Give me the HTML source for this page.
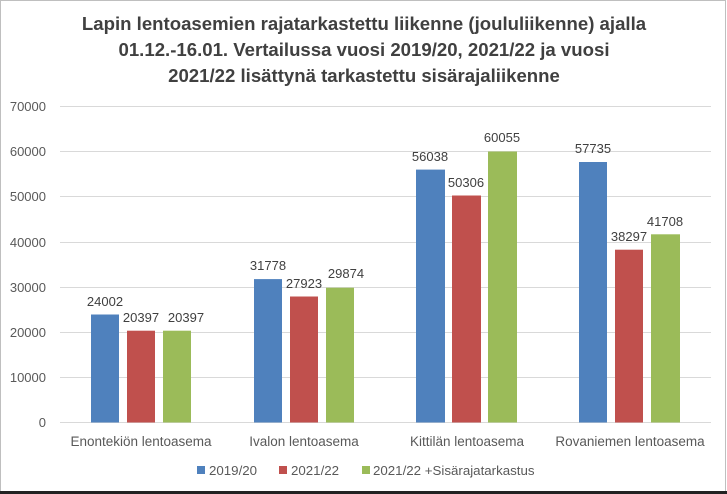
<!DOCTYPE html>
<html><head><meta charset="utf-8"><style>
body{margin:0;background:#fff;}
svg{display:block;font-family:"Liberation Sans",sans-serif;}
</style></head><body>
<svg width="727" height="494" viewBox="0 0 727 494">
<rect x="0.5" y="0.5" width="725" height="492" fill="#fff" stroke="#bfbfbf"/>
<rect x="0" y="491" width="727" height="3" fill="#222"/>
<g font-weight="bold" font-size="18.6" fill="#404040" text-anchor="middle">
<text x="364" y="30">Lapin lentoasemien rajatarkastettu liikenne (joululiikenne) ajalla</text>
<text x="364" y="56">01.12.-16.01. Vertailussa vuosi 2019/20, 2021/22 ja vuosi</text>
<text x="364" y="82">2021/22 lisättynä tarkastettu sisärajaliikenne</text>
</g>
<g stroke="#d9d9d9" stroke-width="1">
<line x1="60" x2="711" y1="106.5" y2="106.5"/><line x1="60" x2="711" y1="151.5" y2="151.5"/>
<line x1="60" x2="711" y1="196.5" y2="196.5"/><line x1="60" x2="711" y1="242.5" y2="242.5"/>
<line x1="60" x2="711" y1="287.5" y2="287.5"/><line x1="60" x2="711" y1="332.5" y2="332.5"/>
<line x1="60" x2="711" y1="377.5" y2="377.5"/><line x1="60" x2="711" y1="422.5" y2="422.5"/>
</g>
<g font-size="13" fill="#595959" text-anchor="end">
<text x="46" y="111">70000</text><text x="46" y="156">60000</text><text x="46" y="201">50000</text>
<text x="46" y="247">40000</text><text x="46" y="292">30000</text><text x="46" y="337">20000</text>
<text x="46" y="382">10000</text><text x="46" y="427">0</text>
</g>
<g>
<rect x="91" y="314.5" width="28" height="108" fill="#4f81bd"/>
<rect x="127" y="330.7" width="28" height="91.8" fill="#c0504d"/>
<rect x="163" y="330.7" width="28" height="91.8" fill="#9bbb59"/>
<rect x="254" y="279.1" width="28" height="143.4" fill="#4f81bd"/>
<rect x="290" y="296.5" width="28" height="126" fill="#c0504d"/>
<rect x="326" y="287.7" width="28" height="134.8" fill="#9bbb59"/>
<rect x="416" y="169.6" width="29" height="252.9" fill="#4f81bd"/>
<rect x="452" y="195.5" width="29" height="227" fill="#c0504d"/>
<rect x="488" y="151.5" width="29" height="271" fill="#9bbb59"/>
<rect x="579" y="162" width="28" height="260.5" fill="#4f81bd"/>
<rect x="615" y="249.7" width="28" height="172.8" fill="#c0504d"/>
<rect x="651" y="234.3" width="29" height="188.2" fill="#9bbb59"/>
</g>
<g font-size="13" fill="#404040" text-anchor="middle">
<text x="105" y="306">24002</text><text x="141" y="322">20397</text><text x="186" y="322">20397</text>
<text x="268" y="270">31778</text><text x="304" y="288">27923</text><text x="346" y="278">29874</text>
<text x="430" y="161">56038</text><text x="466" y="187">50306</text><text x="502" y="142">60055</text>
<text x="593" y="153">57735</text><text x="629" y="241">38297</text><text x="665" y="226">41708</text>
</g>
<g font-size="13.5" fill="#595959" text-anchor="middle">
<text x="141" y="446">Enontekiön lentoasema</text>
<text x="304" y="446">Ivalon lentoasema</text>
<text x="467" y="446">Kittilän lentoasema</text>
<text x="630" y="446">Rovaniemen lentoasema</text>
</g>
<g font-size="13.3" fill="#595959">
<rect x="197" y="466" width="8" height="8" fill="#4f81bd"/><text x="209" y="475">2019/20</text>
<rect x="279" y="466" width="8" height="8" fill="#c0504d"/><text x="291" y="475">2021/22</text>
<rect x="362" y="466" width="8" height="8" fill="#9bbb59"/><text x="373" y="475">2021/22 +Sisärajatarkastus</text>
</g>
</svg>
</body></html>
